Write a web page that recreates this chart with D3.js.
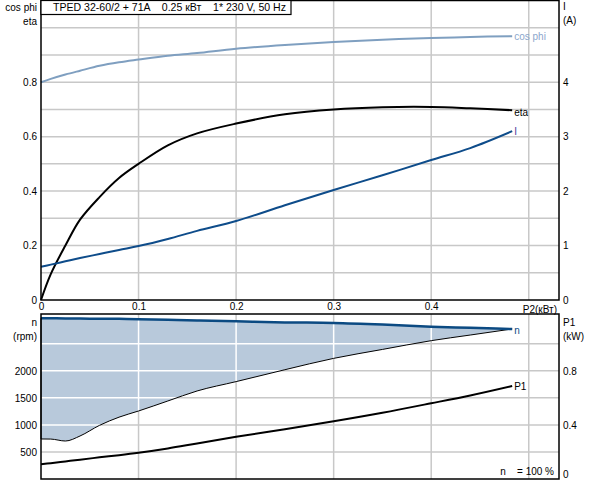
<!DOCTYPE html>
<html>
<head>
<meta charset="utf-8">
<script src="https://cdn.jsdelivr.net/npm/d3@7"></script>
<style>
  body { margin: 0; background: #fff; }
  svg { display: block; font-family: "Liberation Sans", Arial, sans-serif; font-size: 10px; }
</style>
</head>
<body>
<svg id="chart" width="592" height="480"></svg>
<script>
// P2 (kW) sample points shared by every curve
const p2 = [0, 0.01, 0.025, 0.04, 0.06, 0.08, 0.1, 0.13, 0.16, 0.2, 0.25, 0.3, 0.35, 0.4, 0.44, 0.483];
const cosPhi = [0.800, 0.812, 0.828, 0.842, 0.860, 0.873, 0.883, 0.897, 0.907, 0.923, 0.937, 0.948, 0.956, 0.962, 0.966, 0.969];
const eta = [0, 0.095, 0.2, 0.295, 0.378, 0.448, 0.50, 0.568, 0.612, 0.648, 0.682, 0.70, 0.708, 0.709, 0.704, 0.697];
const current = [0.61, 0.65, 0.71, 0.77, 0.845, 0.92, 0.99, 1.12, 1.27, 1.45, 1.74, 2.02, 2.29, 2.57, 2.79, 3.10];
const nMax = [2970, 2970, 2968, 2966, 2963, 2960, 2955, 2945, 2932, 2915, 2895, 2885, 2855, 2815, 2795, 2772];
const nMin = [740, 738, 702, 795, 992, 1143, 1257, 1442, 1627, 1800, 2020, 2230, 2395, 2557, 2661, 2773];
const p1 = [0.109, 0.117, 0.13, 0.143, 0.16, 0.176, 0.194, 0.226, 0.263, 0.312, 0.368, 0.427, 0.49, 0.56, 0.618, 0.688];

const xTicks = [0, 0.1, 0.2, 0.3, 0.4];
const effTicks = [0, 0.2, 0.4, 0.6, 0.8];
const ampTicks = [0, 1, 2, 3, 4];
const rpmTicks = [500, 1000, 1500, 2000];
const kwTicks = [0, 0.4, 0.8];
const title = "TPED 32-60/2 + 71A    0.25 кВт    1* 230 V, 50 Hz";

const svg = d3.select("#chart");
const left = 41, right = 559;
const top1 = 0.5, bottom1 = 300, top2 = 314, bottom2 = 479;

const x = d3.scaleLinear().domain([0, 0.531]).range([left, right]);
const yEff = d3.scaleLinear().domain([0, 1.1]).range([bottom1, top1]);
const yAmp = d3.scaleLinear().domain([0, 5.5]).range([bottom1, top1]);
const yRpm = d3.scaleLinear().domain([0, 3050]).range([bottom2, top2]);
const yKw = d3.scaleLinear().domain([0, 1.22]).range([bottom2, top2]);

const grid = "#c8c8c8";
const smooth = d3.curveCatmullRom.alpha(0.5);
const data = p2.map((p, i) => ({ p, cos: cosPhi[i], eta: eta[i], amp: current[i], nMax: nMax[i], nMin: nMin[i], p1: p1[i] }));

// grid lines
const gridX = [0.1, 0.2, 0.3, 0.4, 0.5];
const rpmGrid = [500, 1000, 1500, 2000, 2500];
const g1 = svg.append("g").attr("stroke", grid).attr("stroke-width", 1.5);
gridX.forEach(v => {
  g1.append("line").attr("x1", x(v)).attr("x2", x(v)).attr("y1", top1).attr("y2", bottom1);
  g1.append("line").attr("x1", x(v)).attr("x2", x(v)).attr("y1", top2).attr("y2", bottom2);
});
d3.range(1, 11).forEach(k => {
  g1.append("line").attr("x1", left).attr("x2", right).attr("y1", yEff(k / 10)).attr("y2", yEff(k / 10));
});
rpmGrid.forEach(v => {
  g1.append("line").attr("x1", left).attr("x2", right).attr("y1", yRpm(v)).attr("y2", yRpm(v));
});

// speed range area, grid shows white inside it
const area = d3.area().x(d => x(d.p)).y0(d => yRpm(d.nMin)).y1(d => yRpm(d.nMax)).curve(d3.curveMonotoneX);
svg.append("path").datum(data).attr("d", area).attr("fill", "#b8c9db");

svg.append("clipPath").attr("id", "areaClip").append("path").datum(data).attr("d", area);
const gw = svg.append("g").attr("clip-path", "url(#areaClip)").attr("stroke", "#fff").attr("stroke-width", 1.5);
gridX.forEach(v => gw.append("line").attr("x1", x(v)).attr("x2", x(v)).attr("y1", top2).attr("y2", bottom2));
rpmGrid.forEach(v => {
  gw.append("line").attr("x1", left).attr("x2", right).attr("y1", yRpm(v)).attr("y2", yRpm(v));
});

// curves
function curve(yScale, key, color, width, c) {
  svg.append("path").datum(data)
    .attr("d", d3.line().x(d => x(d.p)).y(d => yScale(d[key])).curve(c || smooth))
    .attr("fill", "none").attr("stroke", color).attr("stroke-width", width);
}
curve(yEff, "cos", "#7f9fc0", 2);
curve(yEff, "eta", "#000", 2);
curve(yAmp, "amp", "#0e4c8a", 2);
curve(yRpm, "nMin", "#000", 1, d3.curveMonotoneX);
curve(yRpm, "nMax", "#0b4a82", 2.5, d3.curveMonotoneX);
curve(yKw, "p1", "#000", 2);

// vertical edge of the area at P2 = 0
svg.append("line").attr("x1", x(0)).attr("x2", x(0)).attr("y1", yRpm(nMin[0])).attr("y2", yRpm(nMax[0]))
  .attr("stroke", "#000").attr("stroke-width", 1);

// curve labels
const last = data[data.length - 1];
const lx = x(last.p) + 2;
svg.append("text").attr("x", lx).attr("y", yEff(last.cos) + 4).attr("fill", "#8ca6cc").text("cos phi");
svg.append("text").attr("x", lx).attr("y", yEff(last.eta) + 6).attr("fill", "#000").text("eta");
svg.append("text").attr("x", lx).attr("y", yAmp(last.amp) + 4).attr("fill", "#4a3a9a").text("I");
svg.append("text").attr("x", lx).attr("y", yRpm(last.nMax) + 5).attr("fill", "#0b4a82").text("n");
svg.append("text").attr("x", lx).attr("y", yKw(last.p1) + 4).attr("fill", "#000").text("P1");

// frames
svg.append("rect").attr("x", left).attr("y", top1).attr("width", right - left).attr("height", bottom1 - top1)
  .attr("fill", "none").attr("stroke", "#000").attr("stroke-width", 1.5);
svg.append("rect").attr("x", left).attr("y", top2).attr("width", right - left).attr("height", bottom2 - top2)
  .attr("fill", "none").attr("stroke", "#000").attr("stroke-width", 1.5);

// axes (labels only)
function axis(gen, tx, ticks, pad) {
  const g = svg.append("g").attr("transform", tx)
    .call(gen.tickValues(ticks).tickSize(0).tickPadding(pad || 4).tickFormat(d => String(d)));
  g.select(".domain").remove();
  g.selectAll("text").attr("font-size", 10).attr("font-family", "Liberation Sans, Arial, sans-serif").attr("fill", "#000");
  return g;
}
axis(d3.axisLeft(yEff), `translate(${left},0)`, effTicks);
axis(d3.axisRight(yAmp), `translate(${right},0)`, ampTicks);
axis(d3.axisLeft(yRpm), `translate(${left},0)`, rpmTicks);
const kwAxis = axis(d3.axisRight(yKw), `translate(${right},0)`, kwTicks);
kwAxis.selectAll("text").filter(d => d === 0).attr("dy", "-0.2em");
axis(d3.axisBottom(x), `translate(0,${bottom1})`, xTicks, 3);

// axis titles
const t = (xx, yy, s, anchor) => svg.append("text").attr("x", xx).attr("y", yy)
  .attr("text-anchor", anchor || "start").attr("fill", "#000")
  .attr("xml:space", "preserve").style("white-space", "pre").text(s);
t(37, 11, "cos phi", "end");
t(37, 25, "eta", "end");
t(563, 10, "I");
t(563, 24, "(A)");
t(37, 326, "n", "end");
t(37, 340, "(rpm)", "end");
t(563, 326, "P1");
t(563, 340, "(kW)");
t(557, 313, "P2(кВт)", "end");
t(554, 475, "n    = 100 %", "end");

// header box
svg.append("rect").attr("x", left).attr("y", 0.5).attr("width", 250).attr("height", 14)
  .attr("fill", "#fff").attr("stroke", "#000").attr("stroke-width", 1.2);
svg.append("text").attr("x", left + 12).attr("y", 11).attr("fill", "#000").attr("font-size", 11)
  .attr("textLength", 233).attr("lengthAdjust", "spacingAndGlyphs")
  .attr("xml:space", "preserve").style("white-space", "pre").text(title);
</script>
</body>
</html>
